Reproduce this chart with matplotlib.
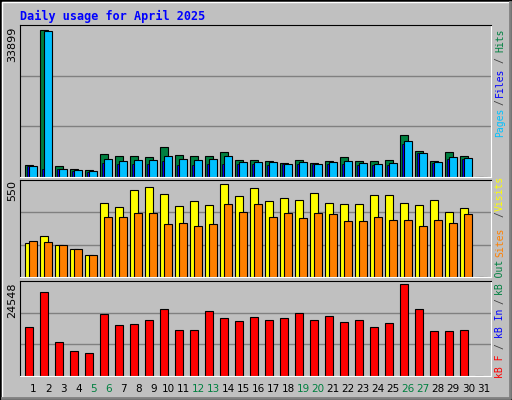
import matplotlib
matplotlib.use("Agg")
import matplotlib.pyplot as plt
from matplotlib.patches import Rectangle
from matplotlib.lines import Line2D

days = list(range(1, 32))
hits = [2825,33746,2596,1909,1680,5345,4886,4886,4657,6948,5115,4886,4886,5803,3970,3970,3741,3283,3970,3283,3741,4657,3741,3741,3970,9697,6032,3741,5803,4886,0]
files = [2443,1909,1909,1451,1222,3283,3054,3054,3054,3741,2825,2825,3054,3054,3054,3054,2825,3054,3054,3054,3054,3054,2825,2825,2825,7635,5574,3283,4199,4199,0]
pages = [2596,33517,1909,1680,1451,4199,3741,3970,3970,4886,4199,3970,4199,4886,3512,3512,3512,3054,3512,3054,3512,3741,3283,3054,3283,8322,5574,3512,4657,4428,0]
visits = [204,246,187,169,133,437,413,514,532,490,419,449,425,550,478,526,449,467,455,496,437,431,431,484,484,437,425,455,383,407,0]
sites = [216,210,187,169,133,359,359,377,377,312,318,300,312,431,383,431,359,377,353,377,371,335,330,359,341,341,300,341,318,371,0]
kbytes = [13259,22386,9227,6808,6271,16484,13797,14065,15140,17827,12453,12453,17290,15677,14871,15946,15140,15677,16752,15140,16215,14602,15140,13259,14334,24548,17827,12184,12184,12453,0]
weekend = {5, 6, 12, 13, 19, 20, 26, 27}

W, H = 512, 400
fig = plt.figure(figsize=(W/100, H/100), dpi=100)
fig.patch.set_facecolor("#c0c0c0")

def pax(x0, y0, x1, y1):
    return fig.add_axes([x0/W, 1-y1/H, (x1-x0)/W, (y1-y0)/H])

fig.add_artist(Rectangle((0, 0), 1, 1, transform=fig.transFigure, fill=False, ec="black", lw=2))
fig.add_artist(Line2D([2/W, 2/W, 1-2/W], [2/H, 1-2/H, 1-2/H], transform=fig.transFigure, color="white", lw=1))
fig.add_artist(Line2D([2/W, 1-2/W, 1-2/W], [2/H, 2/H, 1-2/H], transform=fig.transFigure, color="#808080", lw=2))

xl = (1 + (20-33.3)/15, 1 + (491-33.3)/15)
mono = "DejaVu Sans Mono"

def setup(ax, top):
    ax.set_facecolor("#c0c0c0")
    ax.set_xlim(*xl)
    ax.set_ylim(0, top)
    for g in (top/3, 2*top/3):
        ax.axhline(g, color="#808080", lw=1, zorder=0)
    ax.set_xticks([]); ax.set_yticks([])
    for s in ("left", "top"):
        ax.spines[s].set_color("black")
    for s in ("right", "bottom"):
        ax.spines[s].set_color("white")

kw = dict(ec="black", lw=0.8, align="edge")
ax1 = pax(20, 25, 491, 177)
setup(ax1, 33899*152/148)
ax1.bar([d-0.533 for d in days], hits, 0.53, color="#008040", **kw)
ax1.bar([d-0.4 for d in days], files, 0.2, color="#0000ff", ec="black", lw=0.5, align="edge")
ax1.bar([d-0.267 for d in days], pages, 0.5, color="#00c0ff", **kw)

ax2 = pax(20, 180, 491, 277)
setup(ax2, 550*96.7/92.4)
ax2.bar([d-0.533 for d in days], visits, 0.53, color="#ffff00", **kw)
ax2.bar([d-0.267 for d in days], sites, 0.5, color="#ff8000", **kw)

ax3 = pax(20, 281, 491, 376)
setup(ax3, 24548*94.7/91.3)
ax3.bar([d-0.533 for d in days], kbytes, 0.49, color="#ff0000", **kw)

def ftext(px, py, s, **k):
    fig.text(px/W, 1-py/H, s, **k)

ftext(20, 16, "Daily usage for April 2025", color="#0000ff", family=mono, weight="bold", size=8.5, va="center")
ftext(12, 27, f"{max(hits)+153}", rotation=90, ha="center", va="top", size=8, family="DejaVu Sans")
ftext(12, 180, f"{max(visits)}", rotation=90, ha="center", va="top", size=8, family="DejaVu Sans")
ftext(12, 282, f"{max(kbytes)}", rotation=90, ha="center", va="top", size=8, family="DejaVu Sans")

rk = dict(rotation=90, ha="center", va="center", family=mono, size=7)
for cy, s, c in [(40, "Hits", "#008040"), (60, "/", "#404040"), (82, "Files", "#0000ff"),
                 (102, "/", "#404040"), (122, "Pages", "#00c0ff"),
                 (193, "Visits", "#ffff00"), (214, "/", "#404040"), (242, "Sites", "#ff8000"),
                 (277, "kB Out", "#008040"), (301, "/", "#404040"), (323, "kB In", "#0000ff"),
                 (346, "/", "#404040"), (366, "kB F", "#ff0000")]:
    ftext(500, cy, s, color=c, **rk)

for d in days:
    ftext(33.3 + 15*(d-1), 389, str(d), ha="center", va="center", size=7.5,
          color="#008040" if d in weekend else "black", family="DejaVu Sans")

fig.savefig("out.png", dpi=100, facecolor=fig.get_facecolor())
